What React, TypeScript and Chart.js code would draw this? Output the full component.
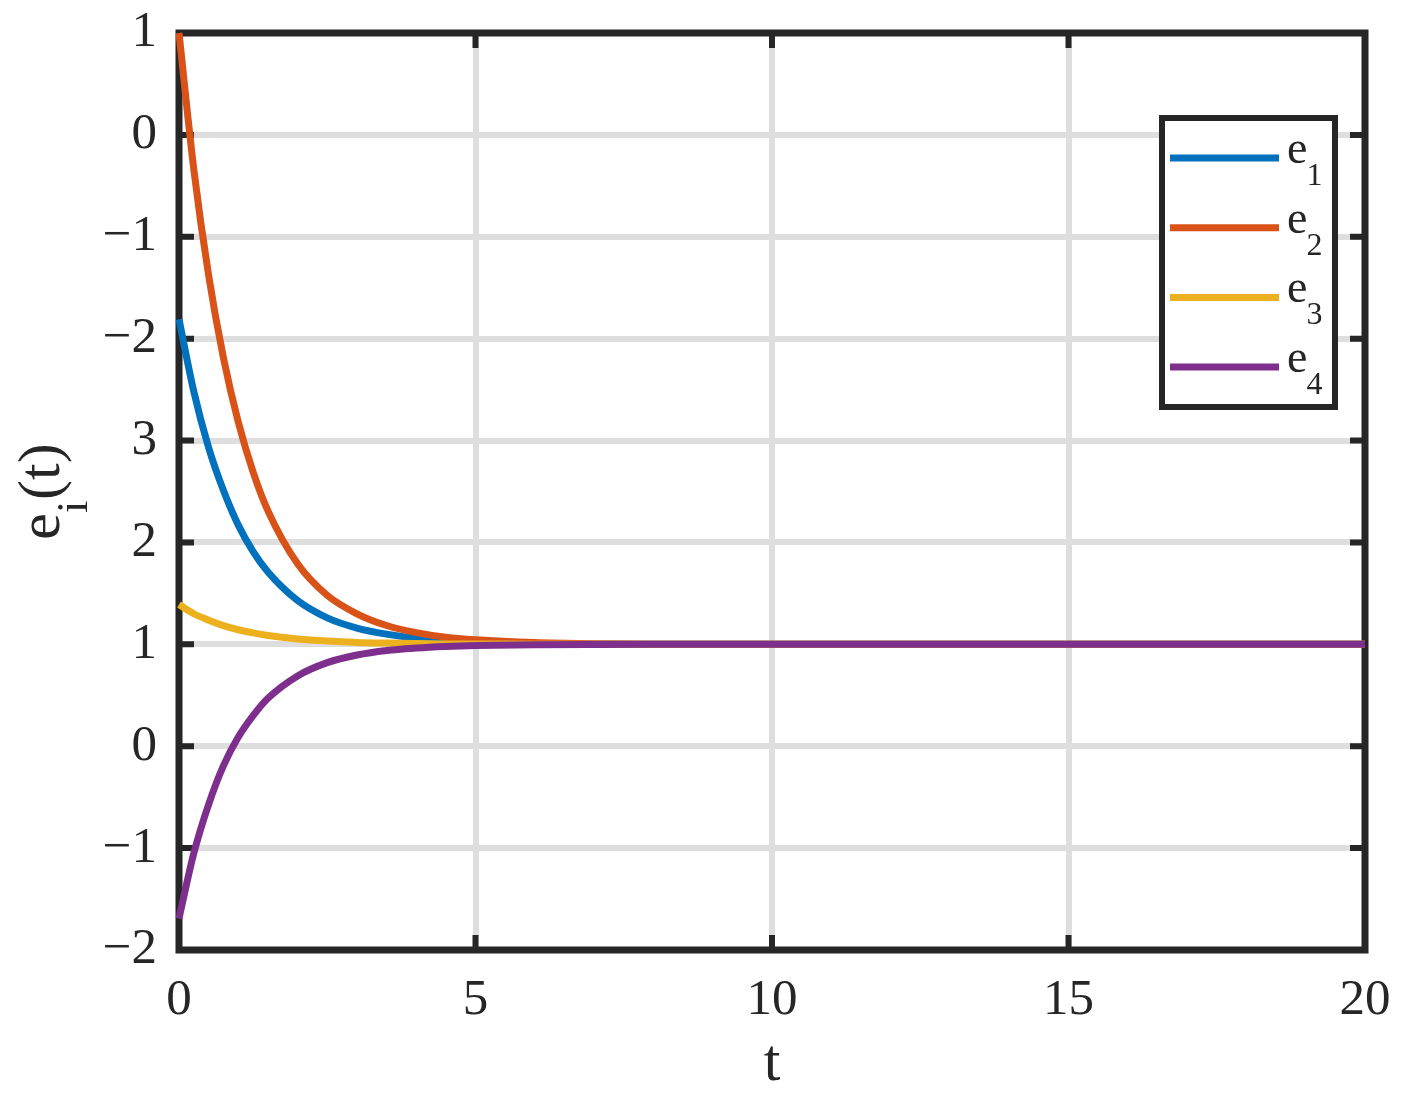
import React, { useEffect, useRef } from "react";
import { Chart, registerables } from "chart.js";

Chart.register(...registerables);

// ---- data ----
const tValues = [0, 0.25, 0.5, 0.75, 1, 1.25, 1.5, 2, 2.5, 3, 3.5, 4, 4.5, 5, 6, 7, 8, 10, 12, 15, 20];
const e1 = [4.19, 3.48, 2.93, 2.51, 2.17, 1.91, 1.71, 1.43, 1.26, 1.16, 1.1, 1.06, 1.037, 1.023, 1.008, 1.003, 1.001, 1, 1, 1, 1];
const e2 = [7, 5.66, 4.62, 3.81, 3.18, 2.69, 2.31, 1.79, 1.48, 1.3, 1.185, 1.115, 1.07, 1.045, 1.017, 1.006, 1.002, 1, 1, 1, 1];
const e3 = [1.39, 1.3, 1.237, 1.184, 1.143, 1.112, 1.087, 1.053, 1.032, 1.019, 1.012, 1.007, 1.004, 1.003, 1.001, 1, 1, 1, 1, 1, 1];
const e4 = [-1.69, -1.05, -0.57, -0.19, 0.09, 0.3, 0.47, 0.69, 0.82, 0.895, 0.94, 0.964, 0.979, 0.988, 0.996, 0.999, 1, 1, 1, 1, 1];

const seriesValues = [e1, e2, e3, e4];
const seriesMain = ["e", "e", "e", "e"];
const seriesSub = ["1", "2", "3", "4"];
const seriesColors = ["#0072BD", "#D95319", "#EDB120", "#7E2F8E"];

const xTickValues = [0, 5, 10, 15, 20];
const yTickValues = [-2, -1, 0, 1, 2, 3, 4, 5, 6, 7];
const yTickLabels = ["\u22122", "\u22121", "0", "1", "2", "3", "\u22122", "\u22121", "0", "1"];

const xTitle = "t";
const yTitleMain = "e";
const yTitleSub = "i";
const yTitleTail = "(t)";

const FONT = "'Liberation Serif', 'Times New Roman', Times, serif";
const AXIS_COLOR = "#262626";
const GRID_COLOR = "#dedede";

export default function App() {
  const ref = useRef<HTMLCanvasElement | null>(null);

  useEffect(() => {
    const canvas = ref.current;
    if (!canvas) return;

    const framePlugin = {
      id: "matlabFrame",
      beforeDatasetsDraw(chart: any) {
        const { ctx, chartArea } = chart;
        const { left, right, top, bottom } = chartArea;
        const xs = chart.scales.x;
        const ys = chart.scales.y;
        const tick = 15;
        ctx.save();
        ctx.strokeStyle = AXIS_COLOR;
        ctx.lineWidth = 6;
        ctx.lineCap = "butt";
        ctx.beginPath();
        xTickValues.forEach((v) => {
          const px = xs.getPixelForValue(v);
          ctx.moveTo(px, bottom);
          ctx.lineTo(px, bottom - tick);
          ctx.moveTo(px, top);
          ctx.lineTo(px, top + tick);
        });
        yTickValues.forEach((v) => {
          const py = ys.getPixelForValue(v);
          ctx.moveTo(left, py);
          ctx.lineTo(left + tick, py);
          ctx.moveTo(right, py);
          ctx.lineTo(right - tick, py);
        });
        ctx.stroke();
        ctx.lineWidth = 7;
        ctx.lineJoin = "miter";
        ctx.strokeRect(left, top, right - left, bottom - top);
        ctx.restore();
      },
    };

    const yTitlePlugin = {
      id: "yTitleSub",
      afterDraw(chart: any) {
        const { ctx, chartArea } = chart;
        ctx.save();
        ctx.fillStyle = AXIS_COLOR;
        ctx.textBaseline = "alphabetic";
        ctx.textAlign = "left";
        const big = `60px ${FONT}`;
        const small = `44px ${FONT}`;
        ctx.font = big;
        const w1 = ctx.measureText(yTitleMain).width;
        const w3 = ctx.measureText(yTitleTail).width;
        ctx.font = small;
        const w2 = ctx.measureText(yTitleSub).width;
        const total = w1 + w2 + w3 + 1;
        const midY = (chartArea.top + chartArea.bottom) / 2;
        ctx.translate(59, midY + total / 2);
        ctx.rotate(-Math.PI / 2);
        ctx.font = big;
        ctx.fillText(yTitleMain, 0, 0);
        ctx.font = small;
        ctx.fillText(yTitleSub, w1, 28);
        ctx.font = big;
        ctx.fillText(yTitleTail, w1 + w2 + 1, 0);
        ctx.restore();
      },
    };

    const legendPlugin = {
      id: "matlabLegend",
      afterDraw(chart: any) {
        const { ctx, chartArea } = chart;
        const boxRight = chartArea.right - 30;
        const boxLeft = boxRight - 173;
        const boxTop = chartArea.top + 85;
        const boxBottom = boxTop + 289;
        ctx.save();
        ctx.fillStyle = "#ffffff";
        ctx.fillRect(boxLeft, boxTop, boxRight - boxLeft, boxBottom - boxTop);
        ctx.strokeStyle = AXIS_COLOR;
        ctx.lineWidth = 6;
        ctx.strokeRect(boxLeft, boxTop, boxRight - boxLeft, boxBottom - boxTop);
        const rowStart = boxTop + 40;
        const rowGap = 69.7;
        seriesColors.forEach((c, i) => {
          const y = rowStart + i * rowGap;
          ctx.strokeStyle = c;
          ctx.lineWidth = 7;
          ctx.beginPath();
          ctx.moveTo(boxLeft + 8, y);
          ctx.lineTo(boxLeft + 117, y);
          ctx.stroke();
          ctx.fillStyle = AXIS_COLOR;
          ctx.textAlign = "left";
          ctx.textBaseline = "alphabetic";
          ctx.font = `46px ${FONT}`;
          const tx = boxLeft + 125;
          ctx.fillText(seriesMain[i], tx, y + 5);
          const w = ctx.measureText(seriesMain[i]).width;
          ctx.font = `32px ${FONT}`;
          ctx.fillText(seriesSub[i], tx + w - 1, y + 27);
        });
        ctx.restore();
      },
    };

    const chart = new Chart(canvas, {
      type: "line",
      data: {
        datasets: seriesValues.map((vals, i) => ({
          label: seriesMain[i] + seriesSub[i],
          data: tValues.map((t, j) => ({ x: t, y: vals[j] })),
          borderColor: seriesColors[i],
          backgroundColor: seriesColors[i],
          borderWidth: 7,
          pointRadius: 0,
          fill: false,
          order: seriesValues.length - i,
          cubicInterpolationMode: "monotone" as const,
          clip: false as any,
        })),
      },
      options: {
        responsive: false,
        animation: false,
        devicePixelRatio: 1,
        layout: { padding: { left: 0, top: 33, right: 40, bottom: 0 } },
        plugins: {
          legend: { display: false },
          tooltip: { enabled: false },
        },
        scales: {
          x: {
            type: "linear",
            min: 0,
            max: 20,
            afterBuildTicks: (scale: any) => {
              scale.ticks = xTickValues.map((v) => ({ value: v }));
            },
            afterFit: (scale: any) => {
              scale.height = 150;
              scale.paddingLeft = 0;
              scale.paddingRight = 0;
            },
            grid: { color: GRID_COLOR, lineWidth: 6, drawTicks: false },
            border: { display: false },
            ticks: {
              autoSkip: false,
              maxRotation: 0,
              padding: 20,
              color: AXIS_COLOR,
              font: { family: FONT, size: 51 },
            },
            title: {
              display: true,
              text: xTitle,
              color: AXIS_COLOR,
              font: { family: FONT, size: 60 },
              padding: 0,
            },
          },
          y: {
            type: "linear",
            min: -2,
            max: 7,
            afterBuildTicks: (scale: any) => {
              scale.ticks = yTickValues.map((v) => ({ value: v }));
            },
            afterFit: (scale: any) => {
              scale.width = 179;
              scale.paddingTop = 0;
              scale.paddingBottom = 0;
            },
            grid: { color: GRID_COLOR, lineWidth: 6, drawTicks: false },
            border: { display: false },
            ticks: {
              autoSkip: false,
              padding: 22,
              color: AXIS_COLOR,
              font: { family: FONT, size: 51 },
              callback: (v: any) => {
                const k = yTickValues.indexOf(Number(v));
                return k >= 0 ? yTickLabels[k] : "";
              },
            },
          },
        },
      },
      plugins: [framePlugin, yTitlePlugin, legendPlugin],
    });

    return () => chart.destroy();
  }, []);

  return (
    <div style={{ position: "absolute", left: 0, top: 0, width: 1405, height: 1100, background: "#ffffff" }}>
      <canvas ref={ref} width={1405} height={1100} style={{ display: "block" }} />
    </div>
  );
}
